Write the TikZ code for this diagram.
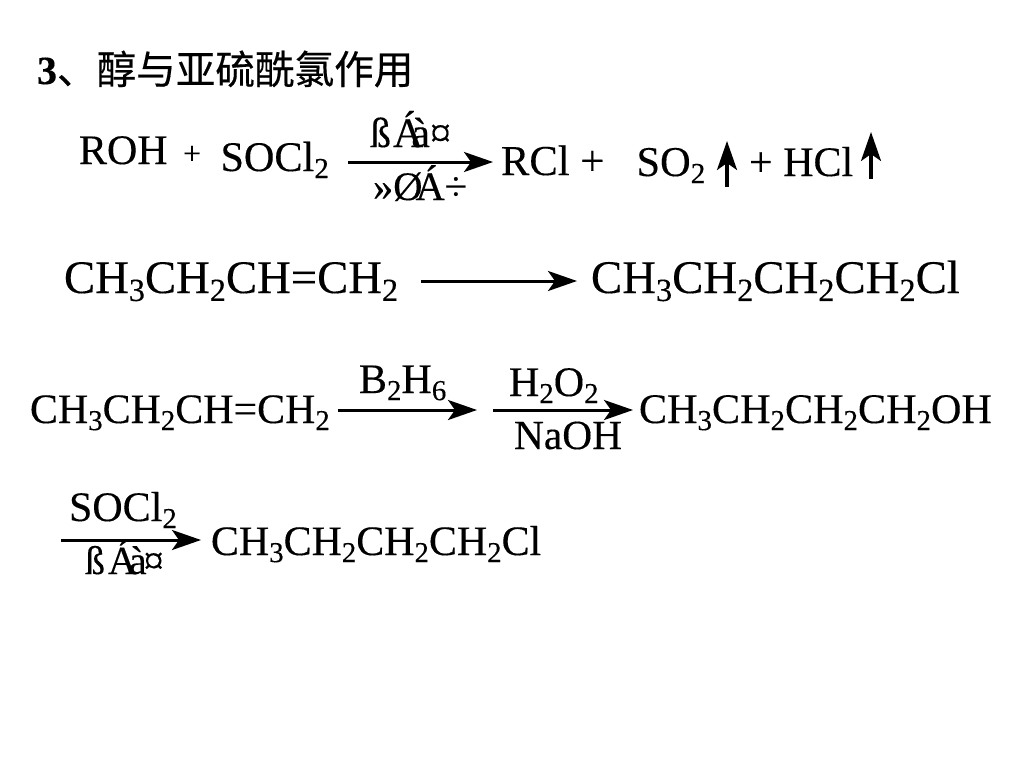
\documentclass[tikz,border=0pt]{standalone}
\usepackage{fontspec}
\setmainfont[FakeBold=0.25]{Liberation Serif}
\newfontfamily\cjkfont[FakeBold=0.4]{Noto Sans CJK SC}
\usetikzlibrary{arrows.meta}
\newcommand{\fs}[1]{\fontsize{#1}{#1}\selectfont}
\newcommand{\sbs}[1]{\raisebox{-0.17em}{\fontsize{0.69em}{0.69em}\selectfont #1}}
\tikzset{
  chem/.style={anchor=base west,inner sep=0pt,outer sep=0pt,text=black},
  rxn/.style={line width=3pt,-{Stealth[length=29pt,width=20pt,inset=7pt]}},
  gas/.style={line width=3.2pt,-{Stealth[length=29pt,width=20pt,inset=7pt]}}
}
\begin{document}
\begin{tikzpicture}[x=1pt,y=-1pt]
\useasboundingbox (0,0) rectangle (1024,768);
\fill[white] (0,0) rectangle (1024,768);
% title
\node[chem] (title) at (37,84) {\fs{40}\bfseries 3{\mdseries\cjkfont\fs{39.6}、醇与亚硫酰氯作用}};
% line 1
\node[chem] (roh) at (79,164) {\fs{42}ROH};
\node[chem] (plusa) at (183,164) {\fs{32}+};
\node[chem] (socl) at (220.5,171) {\fs{42.2}SOCl\sbs{2}};
\node[chem] (topa) at (370,147) {\fs{42}ß\kern2ptÁ\kern-12ptà\kern0pt¤};
\node[chem] (bota) at (373,200) {\fs{40.5}»Ø\kern-7ptÁ÷};
\node[chem] (rcl) at (501,175) {\fs{42.6}RCl +};
\node[chem] (so) at (636.5,176) {\fs{42.4}SO\sbs{2}};
\node[chem] (hcl) at (749,176) {\fs{42}+ HCl};
\coordinate (a1s) at (348,162); \coordinate (a1e) at (493,162);
\draw[rxn] (a1s) -- (a1e);
\coordinate (g1s) at (727,187); \coordinate (g1e) at (727,141);
\draw[gas] (g1s) -- (g1e);
\coordinate (g2s) at (871,179); \coordinate (g2e) at (871,132);
\draw[gas] (g2s) -- (g2e);
% line 2
\node[chem] (buta) at (64,293) {\fs{46.7}CH\sbs{3}CH\sbs{2}CH=CH\sbs{2}};
\node[chem] (clb) at (591,293) {\fs{46.8}CH\sbs{3}CH\sbs{2}CH\sbs{2}CH\sbs{2}Cl};
\coordinate (a2s) at (421,281); \coordinate (a2e) at (577,281);
\draw[rxn] (a2s) -- (a2e);
% line 3
\node[chem] (butb) at (30,423) {\fs{41.9}CH\sbs{3}CH\sbs{2}CH=CH\sbs{2}};
\node[chem] (bh) at (359,393) {\fs{42}B\sbs{2}H\sbs{6}};
\node[chem] (hoo) at (509,396) {\fs{42}H\sbs{2}O\sbs{2}};
\node[chem] (naoh) at (514,449) {\fs{41.4}NaOH};
\node[chem] (oh) at (639,423) {\fs{42.1}CH\sbs{3}CH\sbs{2}CH\sbs{2}CH\sbs{2}OH};
\coordinate (a3s) at (338,410); \coordinate (a3e) at (477,410);
\draw[rxn] (a3s) -- (a3e);
\coordinate (a4s) at (493,410); \coordinate (a4e) at (633,410);
\draw[rxn] (a4s) -- (a4e);
% line 4
\node[chem] (soclb) at (69,521) {\fs{42}SOCl\sbs{2}};
\node[chem] (topb) at (85,574) {\fs{40}ß\kern3ptÁ\kern-8ptà\kern-3pt¤};
\node[chem] (clc) at (211,555) {\fs{41.9}CH\sbs{3}CH\sbs{2}CH\sbs{2}CH\sbs{2}Cl};
\coordinate (a5s) at (61,540); \coordinate (a5e) at (201,540);
\draw[rxn] (a5s) -- (a5e);
\end{tikzpicture}
\end{document}
